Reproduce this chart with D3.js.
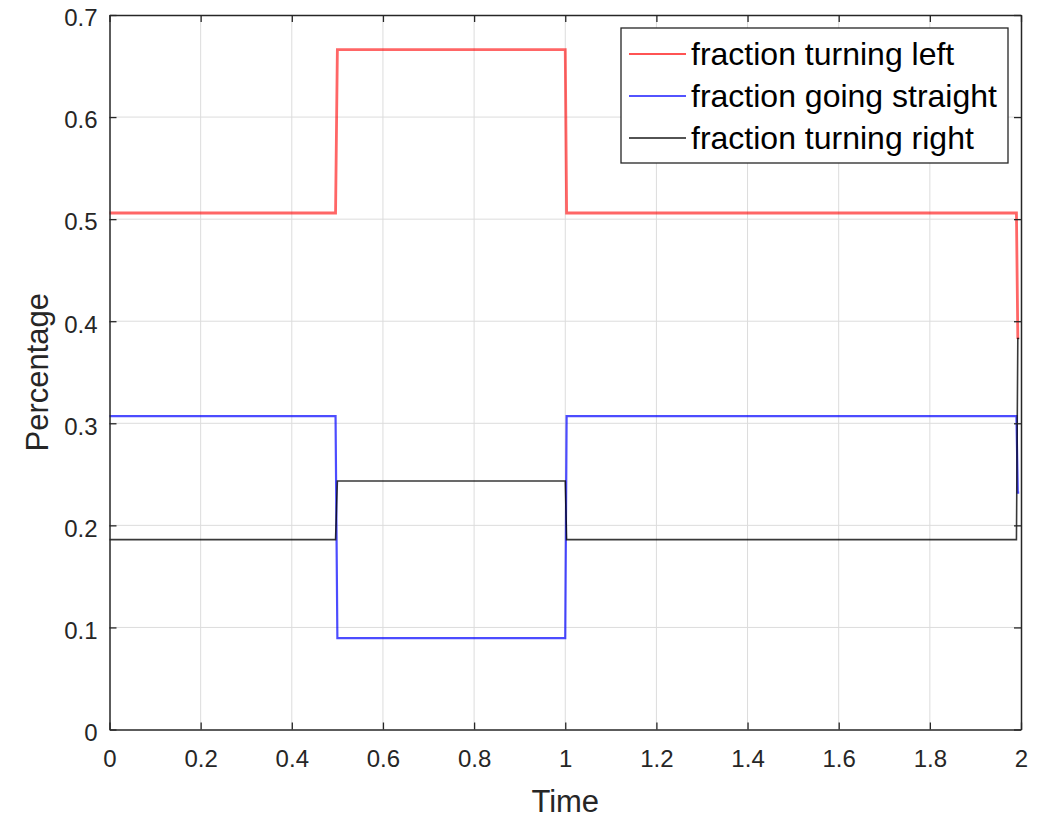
<!DOCTYPE html>
<html>
<head>
<meta charset="utf-8">
<script src="https://cdn.jsdelivr.net/npm/d3@7"></script>
<style>
  html, body { margin: 0; padding: 0; background: #fff; }
  svg { display: block; font-family: "Liberation Sans", Arial, sans-serif; }
</style>
</head>
<body>
<svg id="chart" width="1042" height="820"></svg>
<script>
// ---- data ----
const time = [0, 0.496, 0.5, 1.0, 1.003, 1.990, 1.993, 1.996];
const fracLeft = [0.506, 0.506, 0.666, 0.666, 0.506, 0.506, 0.384, 0.384];
const fracStraight = [0.307, 0.307, 0.0896, 0.0896, 0.307, 0.307, 0.232, 0.232];
const fracRight = [0.186, 0.186, 0.2435, 0.2435, 0.186, 0.186, 0.383, 0.383];
const seriesNames = ["fraction turning left", "fraction going straight", "fraction turning right"];
const xTicks = [0, 0.2, 0.4, 0.6, 0.8, 1, 1.2, 1.4, 1.6, 1.8, 2];
const yTicks = [0, 0.1, 0.2, 0.3, 0.4, 0.5, 0.6, 0.7];
const xLabel = "Time";
const yLabel = "Percentage";

// ---- layout ----
const svg = d3.select("#chart");
const L = 109.5, R = 1021, T = 15, B = 729.5;
const x = d3.scaleLinear().domain([0, 2]).range([L, R]);
const y = d3.scaleLinear().domain([0, 0.7]).range([B, T]);

// grid
const grid = svg.append("g");
grid.selectAll(".gx").data(xTicks.slice(1, -1)).enter().append("line")
  .attr("x1", d => x(d)).attr("x2", d => x(d)).attr("y1", T).attr("y2", B)
  .attr("stroke", "#dcdcdc").attr("stroke-width", 1);
grid.selectAll(".gy").data(yTicks.slice(1, -1)).enter().append("line")
  .attr("y1", d => y(d)).attr("y2", d => y(d)).attr("x1", L).attr("x2", R)
  .attr("stroke", "#dcdcdc").attr("stroke-width", 1);

// series
const series = [
  { name: seriesNames[0], values: fracLeft, color: "#ff0000", opacity: 0.6, width: 2.8 },
  { name: seriesNames[1], values: fracStraight, color: "#0000ff", opacity: 0.7, width: 2.2 },
  { name: seriesNames[2], values: fracRight, color: "#000000", opacity: 0.78, width: 1.6 }
];
const line = d3.line().x(d => x(d[0])).y(d => y(d[1]));
series.forEach(s => {
  svg.append("path")
    .datum(time.map((t, i) => [t, s.values[i]]))
    .attr("d", line)
    .attr("fill", "none")
    .attr("stroke", s.color)
    .attr("stroke-opacity", s.opacity)
    .attr("stroke-width", s.width)
    .attr("stroke-linejoin", "miter");
});

// axes (MATLAB box style, ticks inward)
const tickLen = 7;
const axisColor = "#262626";
const xb = svg.append("g").attr("transform", `translate(0,${B})`)
  .call(d3.axisBottom(x).tickValues(xTicks).tickSizeInner(-tickLen).tickSizeOuter(0).tickPadding(20).tickFormat(d3.format("~g")));
const xt = svg.append("g").attr("transform", `translate(0,${T})`)
  .call(d3.axisTop(x).tickValues(xTicks).tickSizeInner(-tickLen).tickSizeOuter(0).tickFormat(""));
const yl = svg.append("g").attr("transform", `translate(${L},0)`)
  .call(d3.axisLeft(y).tickValues(yTicks).tickSizeInner(-tickLen).tickSizeOuter(0).tickPadding(12).tickFormat(d3.format("~g")));
const yr = svg.append("g").attr("transform", `translate(${R},0)`)
  .call(d3.axisRight(y).tickValues(yTicks).tickSizeInner(-tickLen).tickSizeOuter(0).tickFormat(""));
[xb, xt, yl, yr].forEach(g => {
  g.select(".domain").attr("stroke", axisColor).attr("stroke-width", 1.5);
  g.selectAll(".tick line").attr("stroke", axisColor).attr("stroke-width", 1.3);
  g.selectAll(".tick text").attr("fill", "#262626").attr("font-size", 24)
    .attr("font-family", "'Liberation Sans', Arial, sans-serif");
});
yl.selectAll(".tick text").attr("dy", "0.45em");

// axis labels
svg.append("text").attr("x", (L + R) / 2).attr("y", 812)
  .attr("text-anchor", "middle").attr("font-size", 31).attr("fill", "#262626").text(xLabel);
svg.append("text").attr("transform", `translate(48,${(T + B) / 2}) rotate(-90)`)
  .attr("text-anchor", "middle").attr("font-size", 31).attr("fill", "#262626").text(yLabel);

// legend
const lg = svg.append("g");
lg.append("rect").attr("x", 621).attr("y", 28).attr("width", 387).attr("height", 135)
  .attr("fill", "#fff").attr("stroke", axisColor).attr("stroke-width", 1.3);
const rowY = [54, 96, 138];
series.forEach((s, i) => {
  lg.append("line").attr("x1", 629).attr("x2", 686).attr("y1", rowY[i]).attr("y2", rowY[i])
    .attr("stroke", s.color).attr("stroke-width", 1.6).attr("stroke-opacity", 0.9);
  lg.append("text").attr("x", 691).attr("y", rowY[i]).attr("dy", "0.35em")
    .attr("font-size", 32).attr("fill", "#000").text(s.name);
});
</script>
</body>
</html>
